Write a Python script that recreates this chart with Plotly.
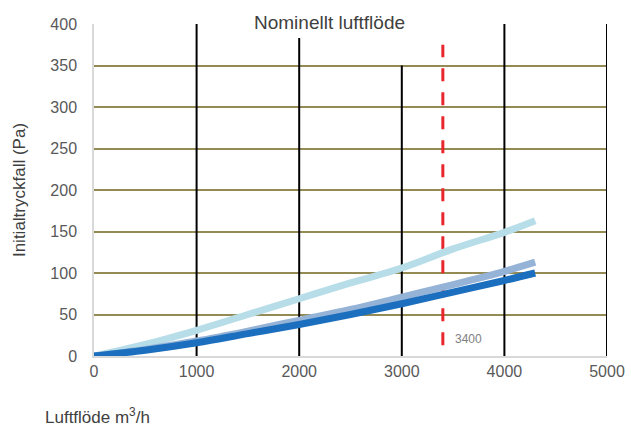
import plotly.graph_objects as go

flow = [0, 500, 1000, 1500, 2000, 2500, 3000, 3500, 4000, 4300]
light = [0, 14, 31, 50, 69, 88, 106, 129, 149, 163]
medium = [0, 8, 18, 30, 43, 56, 71, 86, 102, 113]
dark = [0, 7, 16, 27, 38, 50, 63, 77, 91, 100]

vgrid_x = [1000, 2000, 3000, 4000, 5000]
vgrid_top = [400, 383, 350, 400, 400]

nominal_x = 3400
nominal_range = [13, 375]

x_ticks = [0, 1000, 2000, 3000, 4000, 5000]
y_ticks = [0, 50, 100, 150, 200, 250, 300, 350, 400]

fig = go.Figure()

for xv, top in zip(vgrid_x, vgrid_top):
    fig.add_trace(go.Scatter(x=[xv, xv], y=[0, top], mode="lines",
                             line=dict(color="black", width=2),
                             hoverinfo="skip", showlegend=False))

fig.add_trace(go.Scatter(x=[nominal_x, nominal_x], y=nominal_range, mode="lines",
                         line=dict(color="#E8262B", width=3, dash="13px,11px"),
                         hoverinfo="skip", showlegend=False))

for ys, col in [(light, "#B7DDE8"), (medium, "#95B3D7"), (dark, "#1B6FBE")]:
    fig.add_trace(go.Scatter(x=flow, y=ys, mode="lines", line_shape="spline",
                             line=dict(color=col, width=7), showlegend=False))

fig.update_layout(
    width=631, height=428,
    margin=dict(l=94, r=24, t=24, b=72, autoexpand=False),
    plot_bgcolor="white", paper_bgcolor="white",
    font=dict(family="Liberation Sans, Arial, sans-serif", color="#595959", size=16),
    xaxis=dict(range=[0, 5000], tickvals=x_ticks, showgrid=False, zeroline=False,
               showline=True, linecolor="#D9D9D9", linewidth=1.5, ticks="",
               automargin=False, tickfont=dict(size=16, color="#595959")),
    yaxis=dict(range=[0, 400], tickvals=y_ticks, showgrid=True, gridcolor="#948A54",
               gridwidth=2, zeroline=False, showline=True, linecolor="#D9D9D9",
               linewidth=1.5, ticks="", ticklabelstandoff=12, automargin=False,
               tickfont=dict(size=16, color="#595959"),
               title=dict(text="Initialtryckfall (Pa)", standoff=20,
                          font=dict(size=17, color="#404040"))),
    annotations=[
        dict(text="Nominellt luftflöde", xref="paper", yref="paper",
             x=0.308, y=(356 - 22) / 332, xanchor="left", yanchor="middle",
             showarrow=False, bgcolor="white", width=218, height=26, align="left",
             font=dict(size=19, color="#404040")),
        dict(text="3400", x=nominal_x, y=20, xref="x", yref="y", xanchor="left",
             xshift=10, showarrow=False, font=dict(size=12, color="#808080")),
        dict(text="Luftflöde m<sup>3</sup>/h", xref="paper", yref="paper",
             x=-0.1, y=-0.18, xanchor="left", yanchor="middle", showarrow=False,
             font=dict(size=17, color="#404040")),
    ],
)

fig.write_html("out.html", config={"displayModeBar": False},
               post_script="document.body.style.margin='0';")
